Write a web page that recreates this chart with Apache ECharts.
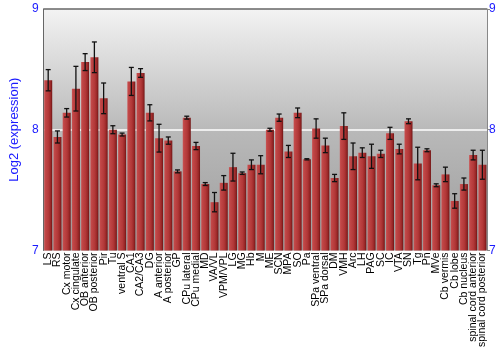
<!DOCTYPE html>
<html><head><meta charset="utf-8">
<script src="https://cdn.jsdelivr.net/npm/echarts@6/dist/echarts.min.js"></script>
<style>html,body{margin:0;padding:0;background:#fff}#c{width:500px;height:350px}</style>
</head><body><div id="c"></div>
<script>
const categories = ["LS","RS","Cx motor","Cx cingulate","OB anterior","OB posterior","Pir","Tu","ventral S","CA1","CA2/CA3","DG","A anterior","A posterior","GP","CPu lateral","CPu medial","MD","VA/VL","VPM/VPL","LG","MG","Hb","M","ME","SCN","MPA","SO","Pa","SPa ventral","SPa dorsal","DM","VMH","Arc","LH","PAG","SC","IC","VTA","SN","Tg","Pn","MVe","Cb vermis","Cb lobe","Cb nucleus","spinal cord anterior","spinal cord posterior"];
const values = [8.41,7.94,8.14,8.34,8.56,8.60,8.26,8.00,7.96,8.40,8.47,8.14,7.93,7.91,7.655,8.10,7.865,7.55,7.40,7.56,7.69,7.64,7.71,7.71,8.00,8.10,7.82,8.14,7.755,8.01,7.87,7.60,8.03,7.78,7.81,7.78,7.80,7.97,7.84,8.07,7.72,7.83,7.54,7.63,7.41,7.55,7.79,7.71];
const errors = [0.088,0.05,0.035,0.185,0.07,0.127,0.127,0.033,0.012,0.116,0.036,0.067,0.115,0.03,0.012,0.012,0.03,0.012,0.08,0.06,0.115,0.01,0.04,0.075,0.012,0.03,0.05,0.04,0.005,0.08,0.06,0.03,0.11,0.11,0.04,0.10,0.03,0.05,0.04,0.02,0.135,0.012,0.012,0.06,0.06,0.05,0.04,0.12];
const yTicks = [7, 8, 9];

const chart = echarts.init(document.getElementById('c'), null, {renderer: 'canvas'});
const blue = '#1a1aff';
const errData = values.map((v, i) => [i, v - errors[i], v + errors[i]]);
chart.setOption({
  animation: false,
  grid: {left: 28, right: 13, top: 9, bottom: 99, show: true, borderWidth: 0,
    backgroundColor: new echarts.graphic.LinearGradient(0, 0, 0, 1, [
      {offset: 0, color: '#f3f3f3'}, {offset: 0.5, color: '#b9b9b9'}, {offset: 1, color: '#9c9c9c'}])},
  xAxis: {type: 'category', data: categories,
    axisLine: {show: false}, axisTick: {show: false},
    axisLabel: {interval: 0, rotate: 90, fontSize: 10.5, color: '#000', margin: 2,
      fontFamily: 'Liberation Sans, Arial, sans-serif'}},
  yAxis: [
    {type: 'value', min: yTicks[0], max: yTicks[2], interval: 1, position: 'left',
      name: 'Log2 (expression)', nameLocation: 'middle', nameGap: 20, nameRotate: 90,
      nameTextStyle: {color: blue, fontSize: 13, fontFamily: 'Liberation Sans, Arial, sans-serif'},
      axisLine: {show: true, lineStyle: {color: '#666', width: 1}},
      axisTick: {show: false},
      axisLabel: {color: blue, fontSize: 12, margin: 5, fontFamily: 'Liberation Sans, Arial, sans-serif'},
      splitLine: {show: true, lineStyle: {color: ['rgba(0,0,0,0)', '#ffffff', '#666'], width: 1.5}}},
    {type: 'value', min: yTicks[0], max: yTicks[2], interval: 1, position: 'right',
      axisLine: {show: true, lineStyle: {color: '#888', width: 1}},
      axisTick: {show: true, length: 3, lineStyle: {color: '#888'}},
      axisLabel: {color: blue, fontSize: 12, margin: 2, fontFamily: 'Liberation Sans, Arial, sans-serif'},
      splitLine: {show: false}}
  ],
  series: [
    {type: 'bar', data: values, barCategoryGap: '13%',
      itemStyle: {color: new echarts.graphic.LinearGradient(0, 0, 1, 0, [
        {offset: 0, color: '#cc5a5a'}, {offset: 0.12, color: '#c24848'}, {offset: 0.55, color: '#b23838'},
        {offset: 0.8, color: '#9a2828'}, {offset: 1, color: '#701414'}])}},
    {type: 'custom', data: errData, z: 5,
      renderItem: function (params, api) {
        const x = api.value(0);
        const lo = api.coord([x, api.value(1)]);
        const hi = api.coord([x, api.value(2)]);
        const hw = 2.5;
        const st = {stroke: '#111', lineWidth: 1.3};
        return {type: 'group', children: [
          {type: 'line', shape: {x1: lo[0], y1: lo[1], x2: hi[0], y2: hi[1]}, style: st},
          {type: 'line', shape: {x1: lo[0] - hw, y1: lo[1], x2: lo[0] + hw, y2: lo[1]}, style: st},
          {type: 'line', shape: {x1: hi[0] - hw, y1: hi[1], x2: hi[0] + hw, y2: hi[1]}, style: st}
        ]};
      }}
  ]
});
</script></body></html>
